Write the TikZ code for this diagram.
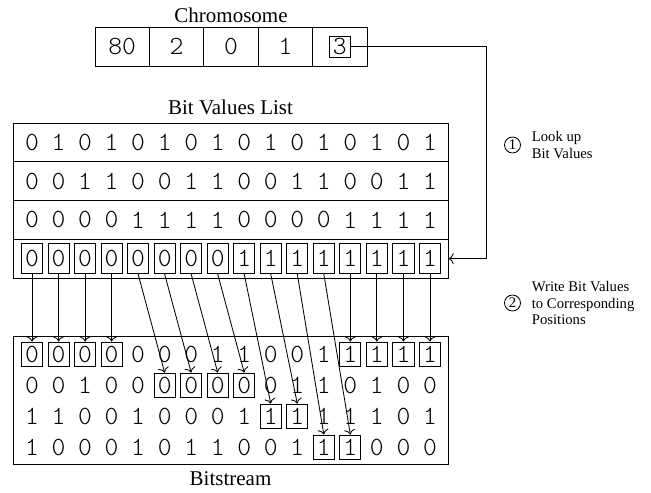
\documentclass[tikz,border=0pt]{standalone}
\usepackage{fontspec}
\setmainfont{Liberation Serif}
\newfontfamily\lightmono{lmmonolt10-regular.otf}
\usetikzlibrary{arrows.meta, positioning}

\begin{document}
\begin{tikzpicture}[
  x=0.476pt, y=-0.476pt,
  digits/.style={font=\fontsize{12.5}{14}\selectfont\lightmono},
  gene/.style={draw, rectangle, minimum width=25.9pt, minimum height=18.6pt, inner sep=0pt, digits},
  chosen/.style={draw, rectangle, minimum width=10pt, minimum height=10pt, inner sep=0pt, digits},
  row/.style={draw, rectangle, minimum width=207.1pt, minimum height=18.4pt, inner sep=0pt},
  bit/.style={inner sep=0pt, digits},
  pick/.style={bit, draw, minimum width=10pt, minimum height=14.3pt},
  put/.style={draw, rectangle, minimum width=10pt, minimum height=11.4pt, inner sep=0pt},
  num/.style={circle, draw, minimum size=7.6pt, inner sep=0pt, font=\scriptsize},
  note/.style={align=left, inner sep=0pt, font=\scriptsize},
  arrow/.style={-{To}}
]
\useasboundingbox (0,0) rectangle (651,493);

% Chromosome
\foreach \v [count=\i from 0] in {80,2,0,1}
  \node[gene] (c\i) at (122.2+54.4*\i, 46.5) {\v};
\node[gene] (c4) at (339.8, 46.5) {};
\node[chosen] (pos) at (c4) {3};
\node[above=-1.5pt of c2] (chromosome) {Chromosome};

% Bit values list
\foreach \bits [count=\r from 0] in {{0,1,0,1,0,1,0,1,0,1,0,1,0,1,0,1},
                                     {0,0,1,1,0,0,1,1,0,0,1,1,0,0,1,1},
                                     {0,0,0,0,1,1,1,1,0,0,0,0,1,1,1,1}} {
  \node[row] (r\r) at (230.5, 142.4+38.75*\r) {};
  \foreach \b [count=\j from 0] in \bits
    \node[bit] (b\r-\j) at (32+26.53*\j, 142.4+38.75*\r) {\b};
}
\node[row] (r3) at (230.5, 258.65) {};
\foreach \b [count=\j from 0] in {0,0,0,0,0,0,0,0,1,1,1,1,1,1,1,1}
  \node[pick] (s\j) at (32+26.53*\j, 258.65) {\b};
\node[above=0pt of r0] (list) {Bit Values List};

% Bitstream
\node[draw, rectangle, minimum width=207.1pt, minimum height=60.9pt, inner sep=0pt] (stream) at (230.5, 400) {};
\node[below=0pt of stream] (bitstream) {Bitstream};
\foreach \bits [count=\r from 0] in {{0,0,0,0,0,0,0,1,1,0,0,1,1,1,1,1},
                                     {0,0,1,0,0,0,0,0,0,0,1,1,0,1,0,0},
                                     {1,1,0,0,1,0,0,0,1,1,1,1,1,1,0,1},
                                     {1,0,0,0,1,0,1,1,0,0,1,1,1,0,0,0}}
  \foreach \b [count=\j from 0] in \bits
    \node[bit] (t\r-\j) at (32+26.53*\j, 354+31*\r) {\b};
\foreach \r/\j in {0/0,0/1,0/2,0/3,0/12,0/13,0/14,0/15,1/5,1/6,1/7,1/8,2/9,2/10,3/11,3/12}
  \node[put] (w\r-\j) at (t\r-\j) {};

% Step labels
\node[num] (one) at (512.5, 145) {1};
\node[note, right=5pt of one] (lookup) {Look up\\Bit Values};
\node[num] (two) at (512.5, 303) {2};
\node[note, right=5pt of two] (write) {Write Bit Values\\to Corresponding\\Positions};

% Arrows
\draw[arrow] (pos.east) -- ++(136,0) |- (r3.east);
\foreach \s/\r/\j in {0/0/0,1/0/1,2/0/2,3/0/3,4/1/5,5/1/6,6/1/7,7/1/8,
                      8/2/9,9/2/10,10/3/11,11/3/12,12/0/12,13/0/13,14/0/14,15/0/15}
  \draw[arrow] (s\s.south) -- (w\r-\j.north);

\end{tikzpicture}
\end{document}
